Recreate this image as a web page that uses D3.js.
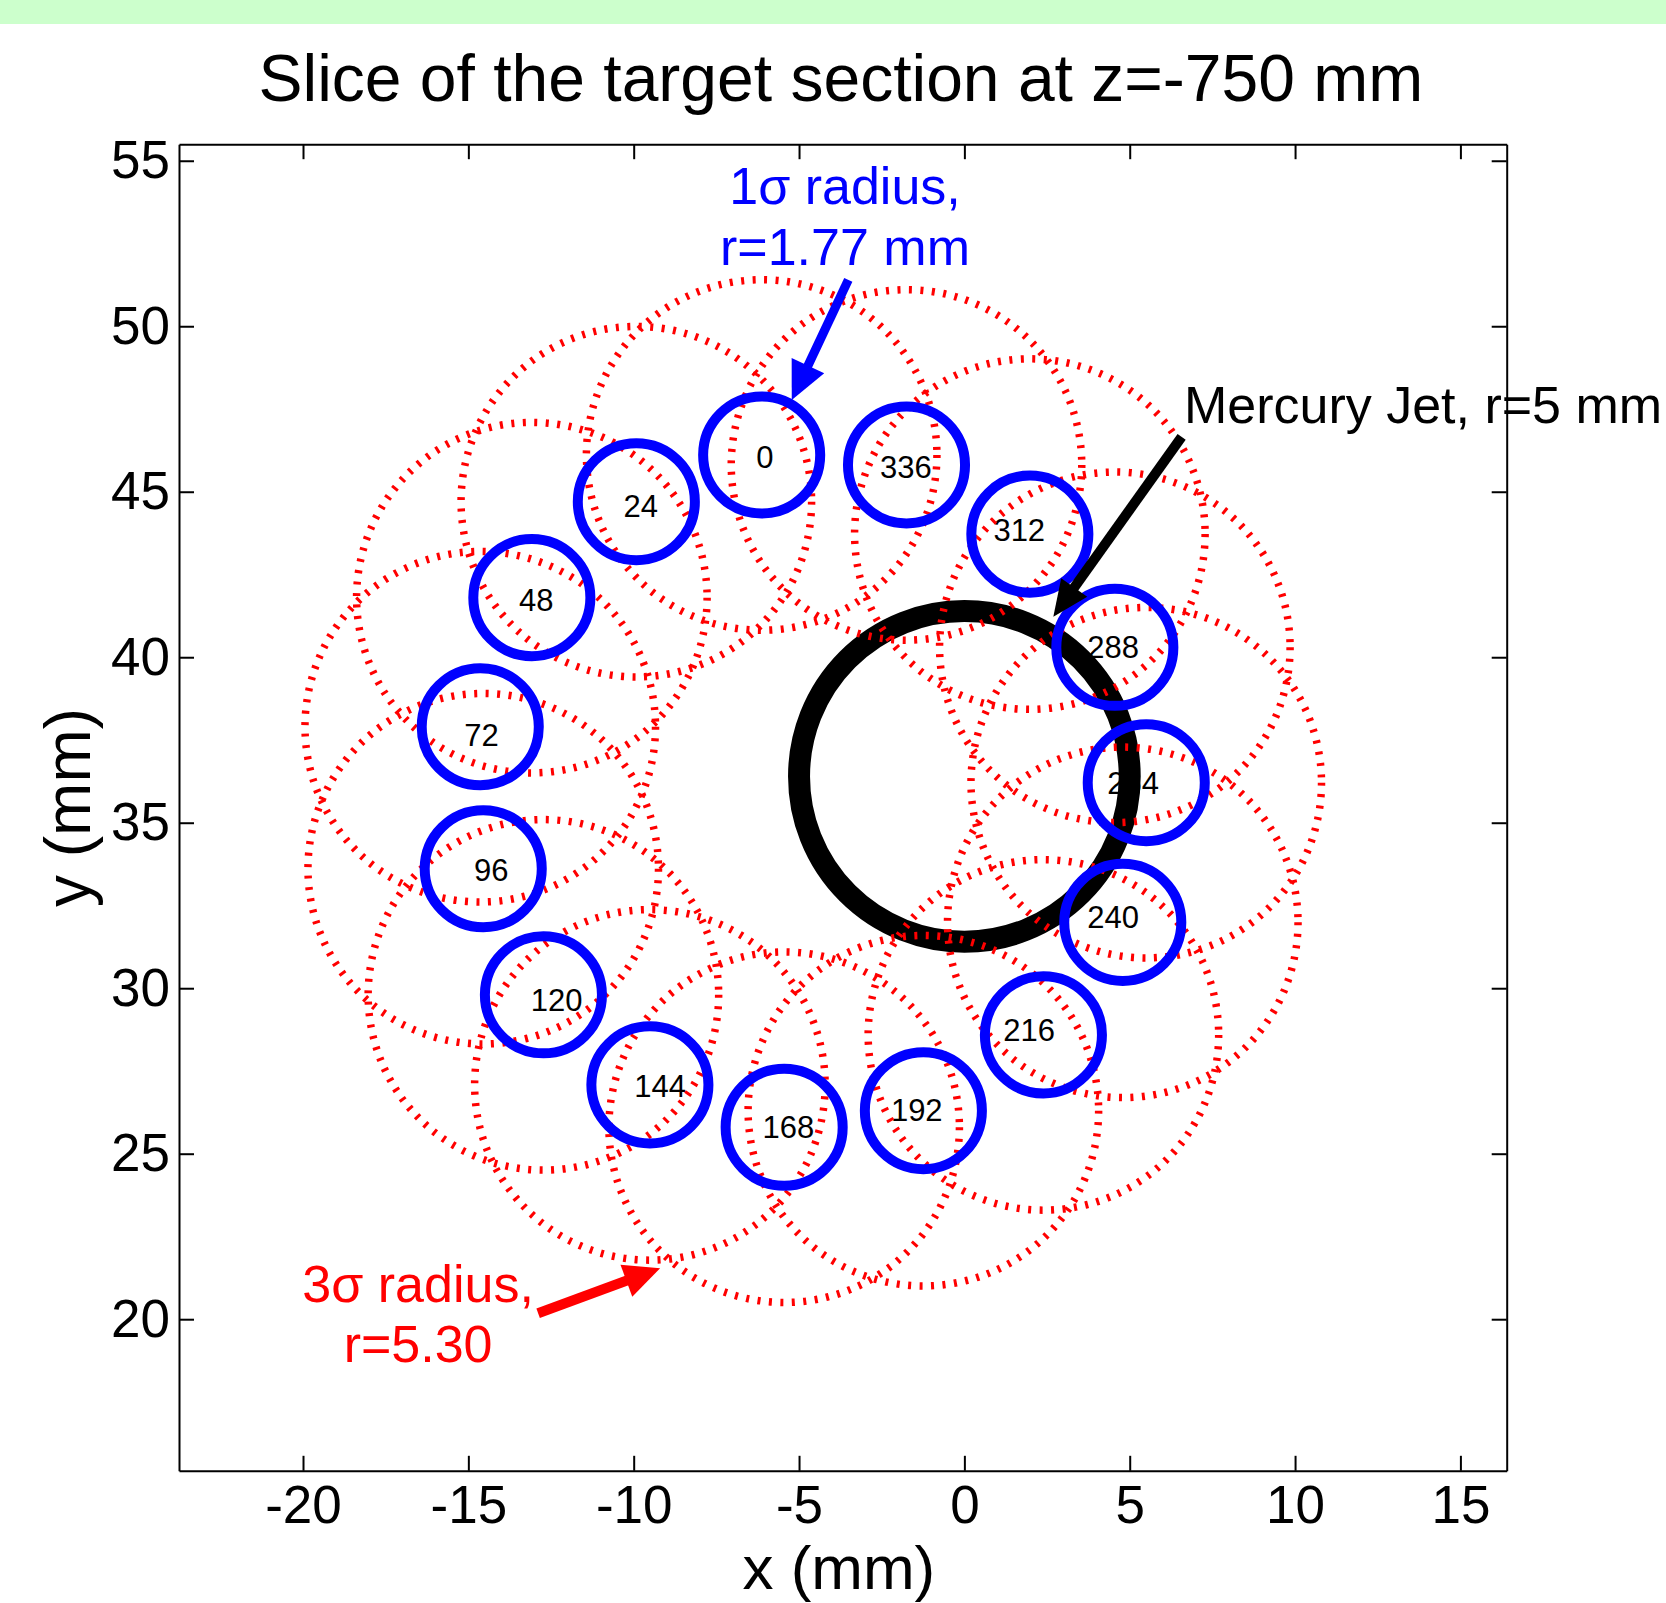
<!DOCTYPE html>
<html>
<head>
<meta charset="utf-8">
<script src="https://cdn.jsdelivr.net/npm/d3@7/dist/d3.min.js"></script>
<style>
  html, body { margin: 0; padding: 0; background: #ffffff; }
  svg { display: block; }
  text { font-family: "Liberation Sans", Arial, Helvetica, sans-serif; }
</style>
</head>
<body>
<script>
// ---------------- data ----------------
const xTicks = [-20, -15, -10, -5, 0, 5, 10, 15];
const yTicks = [20, 25, 30, 35, 40, 45, 50, 55];
const xDomain = [-23.75, 16.4];
const yDomain = [15.42, 55.5];

const beamAngles = [0, 24, 48, 72, 96, 120, 144, 168, 192, 216, 240, 264, 288, 312, 336];
const beamX = [-6.13, -9.92, -13.08, -14.64, -14.55, -12.73, -9.51, -5.45, -1.24, 2.39, 4.79, 5.50, 4.55, 1.98, -1.75];
const beamY = [46.11, 44.70, 41.80, 37.90, 33.61, 29.80, 27.08, 25.80, 26.30, 28.59, 31.99, 36.21, 40.30, 43.72, 45.81];
const labelX = [-6.03, -9.79, -12.95, -14.60, -14.31, -12.33, -9.20, -5.32, -1.44, 1.96, 4.50, 5.10, 4.50, 1.66, -1.77];
const labelY = [46.06, 44.57, 41.73, 37.65, 33.57, 29.66, 27.04, 25.82, 26.32, 28.74, 32.16, 36.20, 40.32, 43.84, 45.76];

const sigma1Radius = 1.77;   // blue circles
const sigma3Radius = 5.30;   // red dotted circles
const jetCenter = [0, 36.4];
const jetRadius = 5;

const titleText = "Slice of the target section at z=-750 mm";
const xLabel = "x (mm)";
const yLabel = "y (mm)";

// annotations: text lines with anchor in data units, arrows tail -> tip
const blueNoteLines = ["1\u03c3 radius,", "r=1.77 mm"];
const blueNoteX = [-3.61, -3.61];
const blueNoteY = [53.69, 51.85];
const blueArrow = [[-3.51, 51.40], [-5.22, 47.77]];

const redNoteLines = ["3\u03c3 radius,", "r=5.30"];
const redNoteX = [-16.52, -16.52];
const redNoteY = [20.53, 18.71];
const redArrow = [[-12.89, 20.18], [-9.20, 21.54]];

const jetNoteLines = ["Mercury Jet, r=5 mm"];
const jetNoteX = [6.64];
const jetNoteY = [47.07];
const jetArrow = [[6.57, 46.66], [2.69, 41.22]];

// ---------------- layout ----------------
const W = 1666, H = 1603;
const plot = { left: 179, right: 1506.7, top: 144.2, bottom: 1470.8 };

const svg = d3.select("body").append("svg").attr("width", W).attr("height", H);

svg.append("rect").attr("x", 0).attr("y", 0).attr("width", W).attr("height", 24).attr("fill", "#ccffcc");

const x = d3.scaleLinear().domain(xDomain).range([plot.left, plot.right]);
const y = d3.scaleLinear().domain(yDomain).range([plot.bottom, plot.top]);
const pxPerUnit = x(1) - x(0);

// title
svg.append("text").attr("x", (plot.left + plot.right) / 2 - 2).attr("y", 101)
  .attr("text-anchor", "middle").attr("font-size", 66).attr("fill", "#000").text(titleText);

// axis labels
svg.append("text").attr("x", (plot.left + plot.right) / 2 - 4).attr("y", 1589)
  .attr("text-anchor", "middle").attr("font-size", 62).attr("fill", "#000").text(xLabel);
svg.append("text").attr("transform", `translate(90,${(plot.top + plot.bottom) / 2}) rotate(-90)`)
  .attr("text-anchor", "middle").attr("font-size", 64).attr("fill", "#000").text(yLabel);

// ---------------- marks ----------------
const g = svg.append("g");

// Mercury jet (black ring)
g.append("circle")
  .attr("cx", x(jetCenter[0])).attr("cy", y(jetCenter[1]))
  .attr("r", jetRadius * pxPerUnit)
  .attr("fill", "none").attr("stroke", "#000").attr("stroke-width", 22);

const beams = beamAngles.map((a, i) => ({ a, cx: beamX[i], cy: beamY[i], lx: labelX[i], ly: labelY[i] }));

// labels (drawn beneath the rings, as in the original)
g.selectAll("text.lab").data(beams).enter().append("text").attr("class", "lab")
  .attr("x", d => x(d.lx)).attr("y", d => y(d.ly))
  .attr("dy", "0.36em").attr("text-anchor", "middle")
  .attr("font-size", 31).attr("fill", "#000").text(d => d.a);

// 3 sigma red dotted circles
g.selectAll("circle.s3").data(beams).enter().append("circle").attr("class", "s3")
  .attr("cx", d => x(d.cx)).attr("cy", d => y(d.cy))
  .attr("r", sigma3Radius * pxPerUnit)
  .attr("fill", "none").attr("stroke", "#ff0000").attr("stroke-width", 7.5)
  .attr("stroke-dasharray", "3,8.5");

// 1 sigma blue circles
g.selectAll("circle.s1").data(beams).enter().append("circle").attr("class", "s1")
  .attr("cx", d => x(d.cx)).attr("cy", d => y(d.cy))
  .attr("r", sigma1Radius * pxPerUnit)
  .attr("fill", "none").attr("stroke", "#0000ff").attr("stroke-width", 10);

// ---------------- annotations ----------------
function note(lines, xs, ys, color, anchor) {
  lines.forEach((t, i) => {
    svg.append("text").attr("x", x(xs[i])).attr("y", y(ys[i]))
      .attr("text-anchor", anchor).attr("font-size", 52).attr("fill", color).text(t);
  });
}
function arrow(pts, color, shaft, headLen, headHalf) {
  const x1 = x(pts[0][0]), y1 = y(pts[0][1]);
  const x2 = x(pts[1][0]), y2 = y(pts[1][1]);
  const dx = x2 - x1, dy = y2 - y1, len = Math.hypot(dx, dy);
  const ux = dx / len, uy = dy / len, px = -uy, py = ux;
  const bx = x2 - ux * headLen, by = y2 - uy * headLen;
  svg.append("line").attr("x1", x1).attr("y1", y1)
    .attr("x2", bx + ux * 2).attr("y2", by + uy * 2)
    .attr("stroke", color).attr("stroke-width", shaft);
  svg.append("path")
    .attr("d", `M${x2},${y2}L${bx + px * headHalf},${by + py * headHalf}L${bx - px * headHalf},${by - py * headHalf}Z`)
    .attr("fill", color);
}
note(blueNoteLines, blueNoteX, blueNoteY, "#0000ff", "middle");
note(redNoteLines, redNoteX, redNoteY, "#ff0000", "middle");
note(jetNoteLines, jetNoteX, jetNoteY, "#000000", "start");
arrow(blueArrow, "#0000ff", 9, 38, 18);
arrow(jetArrow, "#000000", 10, 36, 16);
arrow(redArrow, "#ff0000", 10, 36, 17);

// ---------------- axes (box with inward ticks) ----------------
function styleAxis(sel) {
  sel.selectAll("path.domain").attr("stroke", "#000").attr("stroke-width", 2);
  sel.selectAll(".tick line").attr("stroke", "#000").attr("stroke-width", 2);
  sel.selectAll(".tick text").attr("fill", "#000")
    .style("font-family", '"Liberation Sans", Arial, sans-serif').attr("font-size", 53);
}
const fmt = d => String(d);
const ax = svg.append("g");
ax.append("g").attr("transform", `translate(0,${plot.bottom})`)
  .call(d3.axisBottom(x).tickValues(xTicks).tickSizeInner(-15).tickSizeOuter(0).tickPadding(15).tickFormat(fmt))
  .call(styleAxis);
ax.append("g").attr("transform", `translate(0,${plot.top})`)
  .call(d3.axisTop(x).tickValues(xTicks).tickSizeInner(-15).tickSizeOuter(0).tickFormat(""))
  .call(styleAxis);
ax.append("g").attr("transform", `translate(${plot.left},0)`)
  .call(d3.axisLeft(y).tickValues(yTicks).tickSizeInner(-15).tickSizeOuter(0).tickPadding(9).tickFormat(fmt))
  .call(styleAxis);
ax.append("g").attr("transform", `translate(${plot.right},0)`)
  .call(d3.axisRight(y).tickValues(yTicks).tickSizeInner(-15).tickSizeOuter(0).tickFormat(""))
  .call(styleAxis);
ax.selectAll("text").attr("font-family", null);
</script>
</body>
</html>
